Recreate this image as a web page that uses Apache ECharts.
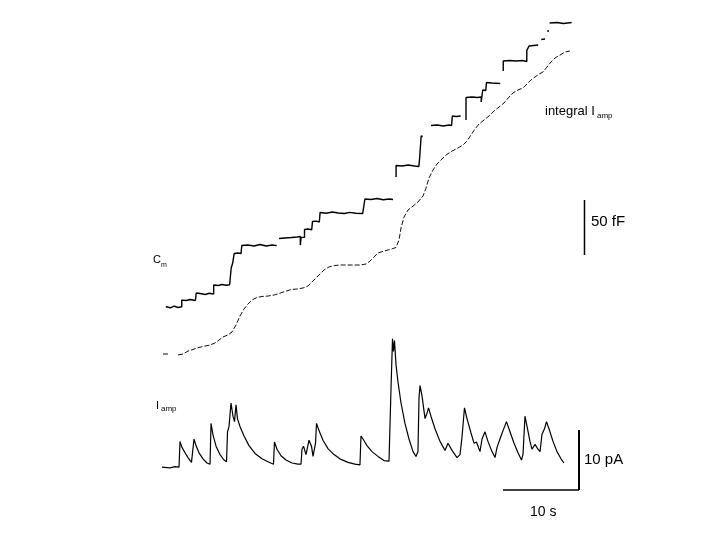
<!DOCTYPE html>
<html>
<head>
<meta charset="utf-8">
<script src="https://cdn.jsdelivr.net/npm/echarts@6/dist/echarts.min.js"></script>
<style>html,body{margin:0;padding:0;background:#fff}#c{width:720px;height:540px}</style>
</head>
<body>
<div id="c"></div>
<script>
// Membrane capacitance Cm trace: [time (s), capacitance (fF)]; null = gap in trace
const cmTrace = [
  [0.5,3],[1.1,2],[1.6,3.5],[2.1,2.3],[2.6,3],[2.6,9],[3.2,8.6],[3.7,9.5],[4.4,8.6],[4.4,6.8],
  [4.5,15.5],[5.0,15],[5.7,14.1],[6.2,15.2],[6.8,14.5],[6.8,22.7],[7.4,22.3],[7.9,23.2],[8.4,22.5],[8.9,23],
  [9.1,38],[9.3,42.7],[9.5,51.4],[10.0,51.8],[10.4,51.4],[10.5,58.6],[11.3,59.1],[12.1,58.2],[12.9,59.5],
  [13.7,58.2],[14.5,59.1],[15.1,58.5],null,
  [15.4,65],[16.2,65.5],[17.0,65.9],[17.8,66.4],[18.2,66.8],[18.2,59],[18.3,66],[18.75,66.2],[18.75,73.2],
  [19.2,73.6],[19.7,73],[19.8,80.5],[20.3,80.8],[20.7,80],[20.8,88.6],[21.6,88],[22.4,89.1],[23.2,88.2],
  [24.0,87.7],[24.7,88.8],[25.5,88],[26.4,87.7],[26.6,88.2],[26.7,100.9],[27.5,100.5],[28.3,101.4],
  [29.1,100.2],[29.9,100.9],[30.4,100.5],null,
  [30.8,120.9],[30.8,131.4],[31.6,130.9],[32.4,131.8],[33.2,130.9],[33.8,130.5],[33.9,138.2],[34.1,158.2],[34.3,157.7],null,
  [35.4,167.7],[36.2,168.2],[37.0,167.3],[37.8,168.2],[38.1,167.7],[38.2,176.4],[38.7,175.9],[39.3,176.4],null,
  [40.0,172.7],[40.0,193.2],[40.8,193.6],[41.5,193.2],[42.0,193.6],[42.0,189.1],[42.2,200],[42.6,199.5],
  [42.7,206.8],[43.4,206.4],[44.5,205.9],null,
  [44.9,217.3],[44.9,226.4],[45.8,226.8],[46.6,226.4],[47.4,226.8],[48.0,225.9],[48.0,236],[48.3,240],
  [49.5,240.9],null,[49.9,245.9],[50.4,246.4],null,[50.8,252.7],[50.8,254.5],null,
  [51.0,260.9],[52.0,261.4],[52.8,260.5],[53.9,261.4]
];

// Integral of the amperometric current, in capacitance units: [time (s), fF]
const integralTrace = [
  [0.13,-40],[0.92,-40],null,
  [2.11,-40.9],[2.76,-40],[3.42,-37.3],[4.08,-35.9],[4.61,-34.5],[5.39,-33.2],[6.32,-31.8],[6.97,-30],
  [7.5,-27.3],[8.03,-24.5],[8.68,-22.7],[9.21,-20],[9.74,-13.6],[10.26,-5.5],[10.79,0.9],[11.32,5.5],
  [11.84,9.1],[12.5,11.4],[13.16,12.3],[13.95,12.7],[14.74,13.6],[15.39,15],[16.18,16.8],[16.97,18.6],
  [17.76,19.1],[18.55,20],[19.21,21.8],[19.74,25.5],[20.26,29.1],[20.79,32.7],[21.32,36.4],[21.97,39.1],
  [22.76,40.5],[23.55,40.9],[24.34,40.9],[25.13,40.9],[26.05,40.9],[26.84,41.8],[27.37,44.5],[27.89,48.2],
  [28.42,51.8],[29.21,53.6],[30.0,55],[30.79,56.8],[31.18,63.6],[31.45,74.5],[31.84,84.5],[32.37,90.9],
  [33.03,94.5],[33.68,98.2],[34.34,103.6],[34.74,110.9],[35.13,120],[35.66,127.3],[36.18,132.7],
  [36.71,136.4],[37.37,140.9],[38.16,144.5],[38.95,147.3],[39.61,150],[40.13,153.6],[40.66,159.1],
  [41.18,164.5],[41.71,169.1],[42.37,172.7],[43.03,176.4],[43.68,180.9],[44.34,184.5],[45.0,188.2],
  [45.66,193.6],[46.18,197.3],[46.84,200],[47.5,201.8],[48.03,205.5],[48.55,209.1],[49.08,211.8],
  [49.61,214.5],[50.13,216.4],[50.66,220.9],[51.18,225.5],[51.71,229.1],[52.37,231.8],[53.03,234.5],[53.68,235.5]
];

// Amperometric current Iamp: [time (s), current (pA)]
const iampTrace = [
  [0,-0.2],[1.05,-0.3],[1.71,-0.1],[2.24,-0.2],[2.37,4.1],[2.63,3.1],[3.03,2.2],[3.42,1.4],[3.88,0.6],
  [4.14,0.7],[4.21,4.5],[4.47,3.4],[4.87,2.2],[5.39,1.2],[5.92,0.5],[6.32,0.3],[6.45,7.1],[6.71,5.2],
  [7.11,3.3],[7.63,1.9],[8.16,1.0],[8.49,0.7],[8.62,5.7],[8.82,6.6],[9.08,10.5],[9.34,8.3],[9.54,7.4],
  [9.74,10.2],[9.93,7.9],[10.26,6.6],[10.79,5.0],[11.45,3.4],[12.24,2.1],[13.16,1.2],[13.95,0.7],
  [14.67,0.3],[14.8,4.0],[15.13,2.8],[15.66,1.7],[16.32,1.0],[17.11,0.5],[17.89,0.3],[18.29,0.3],
  [18.42,2.8],[18.62,3.3],[18.95,1.9],[19.21,1.7],[19.34,4.3],[19.67,3.3],[19.87,1.6],[20.2,3.8],
  [20.33,7.1],[20.66,5.9],[21.18,4.3],[21.84,2.9],[22.63,1.9],[23.55,1.1],[24.47,0.6],[25.39,0.3],
  [26.05,0.2],[26.18,5.0],[26.45,4.5],[26.97,3.4],[27.63,2.4],[28.42,1.6],[29.21,0.9],[29.87,0.8],
  [30.07,1.0],[30.13,12.8],[30.33,21.2],[30.46,19.1],[30.59,20.9],[30.79,16.9],[31.05,14.0],[31.45,10.5],
  [31.97,7.1],[32.5,4.5],[33.03,2.4],[33.42,1.6],[33.68,2.4],[33.82,11.4],[33.95,13.4],[34.21,11.7],
  [34.61,7.9],[34.87,8.8],[35.07,9.7],[35.39,8.3],[35.92,6.2],[36.58,4.1],[37.24,2.6],[37.63,3.8],
  [38.16,2.6],[38.82,1.4],[39.21,1.9],[39.47,4.8],[39.8,9.7],[40.13,7.9],[40.66,5.5],[41.05,3.8],
  [41.38,4.0],[41.84,2.4],[42.11,4.5],[42.5,5.7],[42.89,4.1],[43.42,2.4],[43.82,1.4],[44.08,3.1],
  [44.61,5.0],[44.87,5.9],[45.33,7.4],[45.79,5.7],[46.32,3.8],[46.84,2.2],[47.3,1.0],[47.5,1.9],
  [47.76,8.3],[48.03,6.6],[48.42,4.1],[48.68,2.8],[49.08,3.6],[49.47,2.8],[49.74,2.4],[50.0,5.3],
  [50.33,6.2],[50.59,7.4],[50.92,6.2],[51.45,4.1],[51.97,2.4],[52.5,1.2],[52.89,0.5]
];

// Scale bars (data units)
const capBarTime = 55.59;          // s
const capBarRange = [50, 100];     // fF  -> "50 fF"
const curBarTime = 54.87;          // s
const curBarRange = [-4, 6];       // pA  -> "10 pA"
const timeBarRange = [44.87, 54.87]; // s -> "10 s"
const timeBarLevel = -4;           // pA

const toData = arr => arr.map(p => p === null ? ['-', '-'] : p);
const FONT = '"Liberation Sans", Arial, sans-serif';
const ink = '#000';

const chart = echarts.init(document.getElementById('c'), null, {renderer: 'canvas'});
chart.setOption({
  backgroundColor: '#fff',
  animation: false,
  grid: {left: 0, right: 0, top: 0, bottom: 0, containLabel: false},
  xAxis: {type: 'value', min: -21.316, max: 73.421, show: false},
  yAxis: [
    {type: 'value', min: -209.09, max: 281.82, show: false},
    {type: 'value', min: -12.333, max: 77.667, show: false}
  ],
  series: [
    {type: 'line', name: 'Cm', yAxisIndex: 0, data: toData(cmTrace), symbol: 'none',
     lineStyle: {color: ink, width: 1.4}, connectNulls: false, silent: true},
    {type: 'line', name: 'integral Iamp', yAxisIndex: 0, data: toData(integralTrace), symbol: 'none',
     lineStyle: {color: '#111', width: 1, type: [5, 2]}, connectNulls: false, silent: true},
    {type: 'line', name: 'Iamp', yAxisIndex: 1, data: toData(iampTrace), symbol: 'none',
     lineStyle: {color: ink, width: 1.2}, silent: true},
    {type: 'line', yAxisIndex: 0, data: capBarRange.map(v => [capBarTime, v]), symbol: 'none',
     lineStyle: {color: ink, width: 1.5}, silent: true},
    {type: 'line', yAxisIndex: 1, data: curBarRange.map(v => [curBarTime, v]), symbol: 'none',
     lineStyle: {color: ink, width: 2}, silent: true},
    {type: 'line', yAxisIndex: 1, data: timeBarRange.map(t => [t, timeBarLevel]), symbol: 'none',
     lineStyle: {color: ink, width: 1.3}, silent: true}
  ],
  graphic: [
    {type: 'text', x: 545, y: 111, style: {text: 'integral I', font: '13px ' + FONT, fill: ink, verticalAlign: 'middle'}},
    {type: 'text', x: 597, y: 116, style: {text: 'amp', font: '8px ' + FONT, fill: ink, verticalAlign: 'middle'}},
    {type: 'text', x: 153, y: 260, style: {text: 'C', font: '11px ' + FONT, fill: ink, verticalAlign: 'middle'}},
    {type: 'text', x: 161, y: 265, style: {text: 'm', font: '7px ' + FONT, fill: ink, verticalAlign: 'middle'}},
    {type: 'text', x: 156, y: 406, style: {text: 'I', font: '11px ' + FONT, fill: ink, verticalAlign: 'middle'}},
    {type: 'text', x: 161, y: 409, style: {text: 'amp', font: '8px ' + FONT, fill: ink, verticalAlign: 'middle'}},
    {type: 'text', x: 591, y: 222, style: {text: '50 fF', font: '15px ' + FONT, fill: ink, verticalAlign: 'middle'}},
    {type: 'text', x: 584, y: 460, style: {text: '10 pA', font: '15px ' + FONT, fill: ink, verticalAlign: 'middle'}},
    {type: 'text', x: 530, y: 512, style: {text: '10 s', font: '14px ' + FONT, fill: ink, verticalAlign: 'middle'}}
  ]
});
</script>
</body>
</html>
